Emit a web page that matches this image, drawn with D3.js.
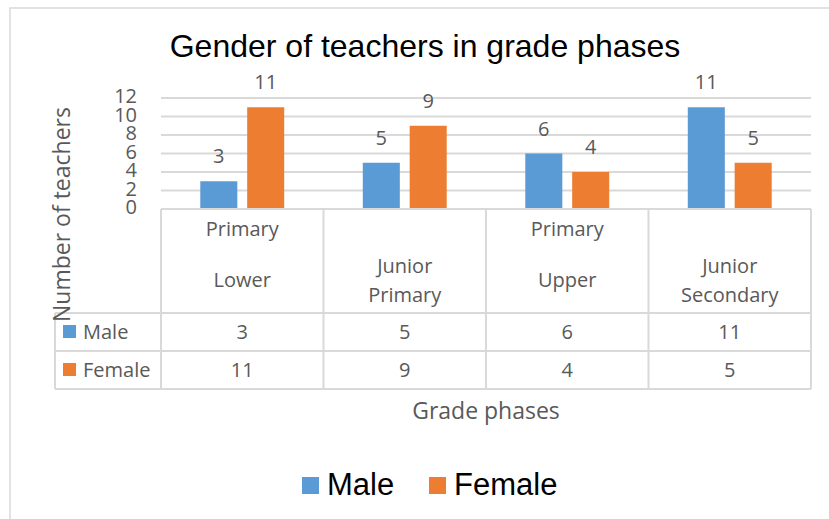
<!DOCTYPE html>
<html><head><meta charset="utf-8">
<script src="https://cdn.jsdelivr.net/npm/d3@7"></script>
<style>body{margin:0;background:#fff}svg{display:block}</style>
</head><body>
<svg id="chart" width="829" height="519"></svg>
<script>
const categories = ["Primary Lower", "Junior Primary", "Primary Upper", "Junior Secondary"];
const categoryTopRow = ["Primary", "", "Primary", ""];
const categoryLines = [["Lower"], ["Junior", "Primary"], ["Upper"], ["Junior", "Secondary"]];
const seriesNames = ["Male", "Female"];
const maleValues = [3, 5, 6, 11];
const femaleValues = [11, 9, 4, 5];
const yTicks = [0, 2, 4, 6, 8, 10, 12];
const colors = {Male: "#5B9BD5", Female: "#ED7D31"};
const seriesValues = {Male: maleValues, Female: femaleValues};

const svg = d3.select("#chart");
const gray = "#595959", lineC = "#D9D9D9";
const sans = "'Open Sans', sans-serif";
const arial = "'Liberation Sans', Arial, sans-serif";

// outer border
svg.append("rect").attr("x", 10).attr("y", 8).attr("width", 900).attr("height", 600)
  .attr("fill", "none").attr("stroke", lineC).attr("stroke-width", 1.5);

const x0 = d3.scaleBand().domain(categories).range([161, 811]).paddingInner(0).paddingOuter(0);
const x1 = d3.scaleBand().domain(seriesNames).range([0, x0.bandwidth()]).paddingInner(0.21).paddingOuter(0.838);
const y = d3.scaleLinear().domain([0, 12]).range([209, 98]);

// title
svg.append("text").attr("x", 425).attr("y", 57).attr("text-anchor", "middle")
  .attr("font-family", arial).attr("font-size", 32).attr("fill", "#000")
  .text("Gender of teachers in grade phases");

// gridlines
svg.append("g").selectAll("line").data(yTicks.filter(d => d > 0)).join("line")
  .attr("x1", 161).attr("x2", 811).attr("y1", d => y(d)).attr("y2", d => y(d))
  .attr("stroke", lineC).attr("stroke-width", 2);

// y tick labels
svg.append("g").selectAll("text").data(yTicks).join("text")
  .attr("x", 137).attr("y", d => y(d) + 5).attr("text-anchor", "end")
  .attr("font-family", sans).attr("font-size", 20).attr("fill", gray)
  .text(d => d);

// bars
const groups = svg.append("g").selectAll("g").data(categories).join("g")
  .attr("transform", d => `translate(${x0(d)},0)`);
groups.selectAll("rect").data((c, i) => seriesNames.map(s => ({s, v: seriesValues[s][i]}))).join("rect")
  .attr("x", d => x1(d.s)).attr("width", x1.bandwidth())
  .attr("y", d => y(d.v)).attr("height", d => y(0) - y(d.v))
  .attr("fill", d => colors[d.s]);
groups.selectAll("text").data((c, i) => seriesNames.map(s => ({s, v: seriesValues[s][i]}))).join("text")
  .attr("x", d => x1(d.s) + x1.bandwidth() / 2).attr("y", d => y(d.v) - 18)
  .attr("text-anchor", "middle").attr("font-family", sans).attr("font-size", 20).attr("fill", gray)
  .text(d => d.v);

// data table lines
const tTop = 209, tHead = 313, tRow1 = 351, tRow2 = 389, tLeft = 55;
const tl = svg.append("g").attr("stroke", lineC).attr("stroke-width", 2);
tl.append("line").attr("x1", 161).attr("x2", 811).attr("y1", tTop).attr("y2", tTop);
[tHead, tRow1, tRow2].forEach(v => tl.append("line").attr("x1", tLeft).attr("x2", 811).attr("y1", v).attr("y2", v));
tl.append("line").attr("x1", tLeft).attr("x2", tLeft).attr("y1", tHead).attr("y2", tRow2);
const bounds = categories.map(c => x0(c)).concat([x0.range()[1]]);
bounds.forEach(b => tl.append("line").attr("x1", b).attr("x2", b).attr("y1", tTop).attr("y2", tRow2));

// category labels
const catG = svg.append("g").attr("font-family", sans).attr("font-size", 20).attr("fill", gray).attr("text-anchor", "middle");
categories.forEach((c, i) => {
  const cx = x0(c) + x0.bandwidth() / 2;
  if (categoryTopRow[i]) catG.append("text").attr("x", cx).attr("y", 236).text(categoryTopRow[i]);
  const lines = categoryLines[i];
  if (lines.length === 1) catG.append("text").attr("x", cx).attr("y", 287).text(lines[0]);
  else lines.forEach((l, j) => catG.append("text").attr("x", cx).attr("y", 273 + j * 29).text(l));
  catG.append("text").attr("x", cx).attr("y", 339).text(maleValues[i]);
  catG.append("text").attr("x", cx).attr("y", 377).text(femaleValues[i]);
});
// table legend keys
seriesNames.forEach((s, i) => {
  const by = [339, 377][i];
  svg.append("rect").attr("x", 63).attr("y", by - 14).attr("width", 13).attr("height", 13).attr("fill", colors[s]);
  svg.append("text").attr("x", 83).attr("y", by).attr("font-family", sans).attr("font-size", 20).attr("fill", gray).text(s);
});

// axis titles
svg.append("text").attr("transform", "translate(70,214.5) rotate(-90)").attr("text-anchor", "middle")
  .attr("font-family", sans).attr("font-size", 23).attr("fill", gray).text("Number of teachers");
svg.append("text").attr("x", 486).attr("y", 419).attr("text-anchor", "middle")
  .attr("font-family", sans).attr("font-size", 23).attr("fill", gray).text("Grade phases");

// legend
const legX = [302, 429];
seriesNames.forEach((s, i) => {
  svg.append("rect").attr("x", legX[i]).attr("y", 477).attr("width", 17).attr("height", 17).attr("fill", colors[s]);
  svg.append("text").attr("x", legX[i] + 25).attr("y", 495).attr("font-family", arial).attr("font-size", 31).attr("fill", "#000").text(s);
});
</script>
</body></html>
